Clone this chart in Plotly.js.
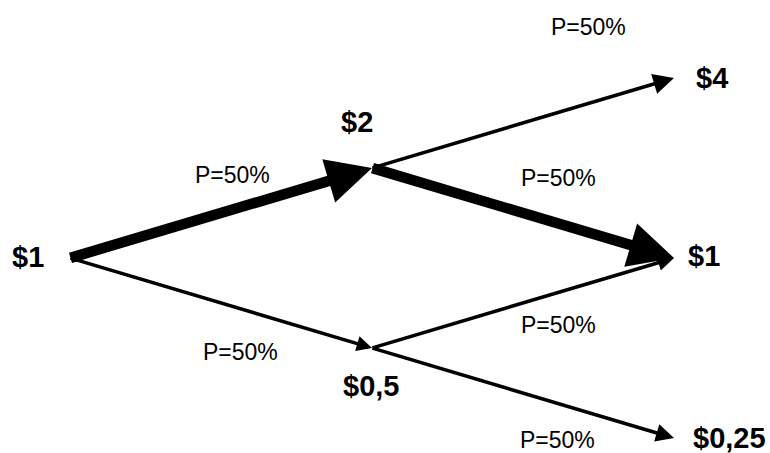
<!DOCTYPE html>
<html>
<head>
<meta charset="utf-8">
<script src="https://cdn.plot.ly/plotly-3.0.1.min.js"></script>
<style>html,body{margin:0;padding:0;background:#fff;}#chart{width:770px;height:453px;}</style>
</head>
<body>
<div id="chart"></div>
<script>
// Binomial tree: node step (time) and log2 of the price
const nodeStep   = [0, 1, 1, 2, 2, 2];
const nodeLog2   = [0, 1, -1, 2, 0, -2];
const nodeLabels = ["$1", "$2", "$0,5", "$4", "$1", "$0,25"];
// Edges (from node -> to node) and their probabilities
const edgeFrom   = [0, 0, 1, 1, 2, 2];
const edgeTo     = [1, 2, 3, 4, 4, 5];
const edgeProb   = ["P=50%", "P=50%", "P=50%", "P=50%", "P=50%", "P=50%"];

// ---- styles (not data) ----
const drawOrder = [1, 2, 4, 5, 0, 3];               // thin lines first, thick on top
const edgeStyle = {
  0: {w: 10.5, s: 0.86}, 1: {w: 3.6, s: 0.85}, 2: {w: 3.6, s: 1.15},
  3: {w: 10.5, s: 0.86}, 4: {w: 3.6, s: 0.9}, 5: {w: 3.6, s: 1.0}
};
const nodeShift = [[-42, 1], [-15, 46], [-1, -38], [38, 0], [30, 2], [55, 0]];
const probShift = [[11, 38], [19, -49], [65, 96], [35, 35], [35, -22], [34, -47]];

const annotations = [];
drawOrder.forEach(function (i) {
  const a = edgeFrom[i], b = edgeTo[i];
  annotations.push({
    x: nodeStep[b], y: nodeLog2[b], xref: 'x', yref: 'y',
    ax: nodeStep[a], ay: nodeLog2[a], axref: 'x', ayref: 'y',
    text: '', showarrow: true, arrowhead: 2,
    arrowwidth: edgeStyle[i].w, arrowsize: edgeStyle[i].s,
    arrowcolor: '#000', standoff: 0, startstandoff: 0, borderpad: 0
  });
});
edgeFrom.forEach(function (a, i) {
  const b = edgeTo[i];
  annotations.push({
    x: (nodeStep[a] + nodeStep[b]) / 2, y: (nodeLog2[a] + nodeLog2[b]) / 2,
    xref: 'x', yref: 'y', showarrow: false, text: edgeProb[i],
    xshift: probShift[i][0], yshift: probShift[i][1],
    xanchor: 'center', yanchor: 'middle',
    font: {family: 'Liberation Sans, Arial, sans-serif', size: 23, color: '#000'}
  });
});
nodeLabels.forEach(function (t, i) {
  annotations.push({
    x: nodeStep[i], y: nodeLog2[i], xref: 'x', yref: 'y', showarrow: false,
    text: '<b>' + t + '</b>', xshift: nodeShift[i][0], yshift: nodeShift[i][1],
    xanchor: 'center', yanchor: 'middle',
    font: {family: 'Liberation Sans, Arial, sans-serif', size: 29, color: '#000'}
  });
});

const layout = {
  width: 770, height: 453, autosize: false,
  margin: {l: 0, r: 0, t: 0, b: 0, pad: 0},
  paper_bgcolor: '#fff', plot_bgcolor: '#fff', showlegend: false,
  xaxis: {range: [-70 / 302, 700 / 302], visible: false, fixedrange: true},
  yaxis: {range: [-195 / 90, 258 / 90], visible: false, fixedrange: true},
  annotations: annotations
};
Plotly.newPlot('chart', [{x: nodeStep, y: nodeLog2, mode: 'markers', marker: {opacity: 0}, hoverinfo: 'skip'}], layout, {staticPlot: true, displayModeBar: false});
</script>
</body>
</html>
